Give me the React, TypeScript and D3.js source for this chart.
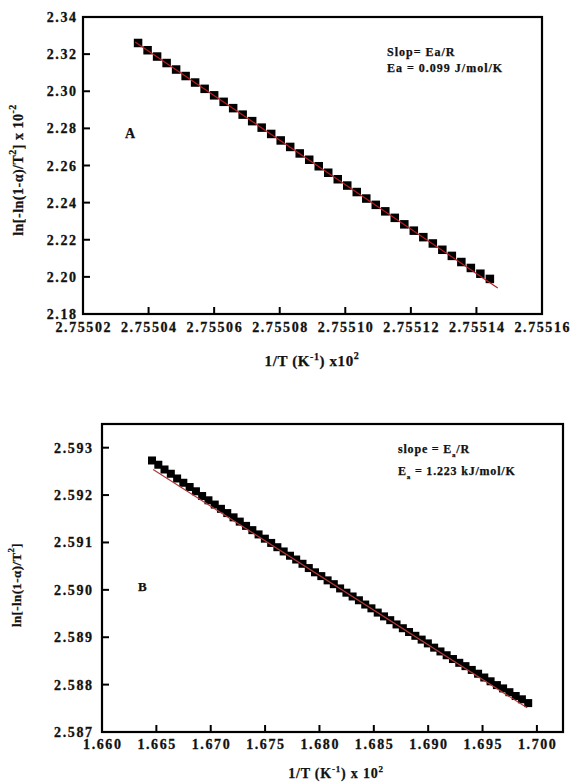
import React from "react";
import * as d3 from "d3";

// ---------- Panel A data ----------
const A_X = [
  2.7550368, 2.7550397, 2.7550426, 2.7550455, 2.7550484, 2.7550513, 2.7550542, 2.7550571,
  2.75506, 2.7550629, 2.7550658, 2.7550687, 2.7550716, 2.7550745, 2.7550774, 2.7550803,
  2.7550832, 2.7550861, 2.755089, 2.7550919, 2.7550948, 2.7550977, 2.7551006, 2.7551035,
  2.7551064, 2.7551093, 2.7551122, 2.7551151, 2.755118, 2.7551209, 2.7551238, 2.7551267,
  2.7551296, 2.7551325, 2.7551354, 2.7551383, 2.7551412, 2.7551441,
];
const A_Y = [
  2.326, 2.3221, 2.3187, 2.3152, 2.3117, 2.3082, 2.3047, 2.3013,
  2.2978, 2.2943, 2.2909, 2.2874, 2.2839, 2.2804, 2.277, 2.2735,
  2.27, 2.2665, 2.2631, 2.2596, 2.2561, 2.2526, 2.2492, 2.2457,
  2.2422, 2.2388, 2.2353, 2.2318, 2.2283, 2.2249, 2.2214, 2.218,
  2.2146, 2.2113, 2.208, 2.2048, 2.2017, 2.1989,
];
const A_FIT_X = [2.7550359, 2.7551465];
const A_FIT_Y = [2.3265, 2.194];
const A_XTICKS = [2.75502, 2.75504, 2.75506, 2.75508, 2.7551, 2.75512, 2.75514, 2.75516];
const A_YTICKS = [2.18, 2.2, 2.22, 2.24, 2.26, 2.28, 2.3, 2.32, 2.34];

// ---------- Panel B data ----------
const B_X = [
  1.6646, 1.66518, 1.66575, 1.66633, 1.66691, 1.66748, 1.66806, 1.66864, 1.66921, 1.66979,
  1.67037, 1.67094, 1.67152, 1.6721, 1.67267, 1.67325, 1.67383, 1.6744, 1.67498, 1.67556,
  1.67613, 1.67671, 1.67729, 1.67786, 1.67844, 1.67902, 1.67959, 1.68017, 1.68075, 1.68132,
  1.6819, 1.68248, 1.68305, 1.68363, 1.68421, 1.68478, 1.68536, 1.68594, 1.68651, 1.68709,
  1.68767, 1.68824, 1.68882, 1.6894, 1.68997, 1.69055, 1.69113, 1.6917, 1.69228, 1.69286,
  1.69343, 1.69401, 1.69459, 1.69516, 1.69574, 1.69632, 1.69689, 1.69747, 1.69805, 1.69862,
  1.6992,
];
const B_Y = [
  2.59273, 2.59264, 2.59254, 2.59245, 2.59235, 2.59226, 2.59217, 2.59208, 2.59198, 2.59189,
  2.5918, 2.59171, 2.59162, 2.59153, 2.59144, 2.59135, 2.59126, 2.59117, 2.59108, 2.59099,
  2.5909, 2.59081, 2.59072, 2.59064, 2.59055, 2.59046, 2.59037, 2.59029, 2.5902, 2.59012,
  2.59003, 2.58994, 2.58986, 2.58978, 2.58969, 2.58961, 2.58952, 2.58944, 2.58936, 2.58927,
  2.58919, 2.58911, 2.58903, 2.58895, 2.58887, 2.58878, 2.5887, 2.58862, 2.58854, 2.58846,
  2.58839, 2.58831, 2.58823, 2.58815, 2.58807, 2.58799, 2.58792, 2.58784, 2.58776, 2.58769,
  2.58761,
];
const B_FIT_X = [1.6647, 1.6991];
const B_FIT_Y = [2.59254, 2.58751];
const B_XTICKS = [1.66, 1.665, 1.67, 1.675, 1.68, 1.685, 1.69, 1.695, 1.7];
const B_YTICKS = [2.587, 2.588, 2.589, 2.59, 2.591, 2.592, 2.593];

const FONT = "'Liberation Serif', 'Times New Roman', serif";

type PanelProps = {
  xs: number[];
  ys: number[];
  fitX: number[];
  fitY: number[];
  xTicks: number[];
  yTicks: number[];
  xDomain: [number, number];
  yDomain: [number, number];
  left: number;
  right: number;
  top: number;
  bottom: number;
  xFmt: string;
  yFmt: string;
  xLabelY: number;
  yLabelX: number;
  marker: number;
  lineColor: string;
  children?: React.ReactNode;
};

function Panel(p: PanelProps) {
  const x = d3.scaleLinear().domain(p.xDomain).range([p.left, p.right]);
  const y = d3.scaleLinear().domain(p.yDomain).range([p.bottom, p.top]);
  const fx = d3.format(p.xFmt);
  const fy = d3.format(p.yFmt);
  const line = d3
    .line<number>()
    .x((d) => x(p.fitX[d]))
    .y((d) => y(p.fitY[d]));
  const tick = 7;
  const ls = 1.6;
  return (
    <g>
      {p.xs.map((v, i) => (
        <rect
          key={i}
          x={x(v) - p.marker / 2}
          y={y(p.ys[i]) - p.marker / 2}
          width={p.marker}
          height={p.marker}
          fill="#000"
        />
      ))}
      <path d={line([0, 1]) || ""} stroke={p.lineColor} strokeWidth={1.2} fill="none" />
      <rect
        x={p.left}
        y={p.top}
        width={p.right - p.left}
        height={p.bottom - p.top}
        fill="none"
        stroke="#000"
        strokeWidth={2.2}
      />
      {p.xTicks.map((t, i) => (
        <g key={"xt" + i}>
          <line x1={x(t)} x2={x(t)} y1={p.bottom} y2={p.bottom - tick} stroke="#000" strokeWidth={2} />
          <text
            x={x(t) + ls / 2}
            y={p.xLabelY}
            textAnchor="middle"
            fontFamily={FONT}
            fontWeight="bold"
            fontSize={14}
            letterSpacing={ls}
            fill="#111"
            stroke="#111"
            strokeWidth={0.3}
          >
            {fx(t)}
          </text>
        </g>
      ))}
      {p.yTicks.map((t, i) => (
        <g key={"yt" + i}>
          <line x1={p.left} x2={p.left + tick} y1={y(t)} y2={y(t)} stroke="#000" strokeWidth={2} />
          <text
            x={p.yLabelX + ls}
            y={y(t) + 5}
            textAnchor="end"
            fontFamily={FONT}
            fontWeight="bold"
            fontSize={14}
            letterSpacing={ls}
            fill="#111"
            stroke="#111"
            strokeWidth={0.3}
          >
            {fy(t)}
          </text>
        </g>
      ))}
      {p.children}
    </g>
  );
}

export default function App() {
  const textStyle = {
    fontFamily: FONT,
    fontWeight: "bold" as const,
    fill: "#111",
    stroke: "#111",
    strokeWidth: 0.25,
  };
  return (
    <svg
      width={571}
      height={782}
      viewBox="0 0 571 782"
      style={{ position: "absolute", left: 0, top: 0, background: "#fff" }}
    >
      <rect x={0} y={0} width={571} height={782} fill="#fff" />

      <Panel
        xs={A_X}
        ys={A_Y}
        fitX={A_FIT_X}
        fitY={A_FIT_Y}
        xTicks={A_XTICKS}
        yTicks={A_YTICKS}
        xDomain={[2.75502, 2.75516]}
        yDomain={[2.18, 2.34]}
        left={83}
        right={542}
        top={17}
        bottom={314}
        xFmt=".5f"
        yFmt=".2f"
        xLabelY={332}
        yLabelX={76}
        marker={8.5}
        lineColor="#b81c22"
      >
        <text x={125} y={138} fontSize={14} {...textStyle}>A</text>
        <text x={387} y={56} fontSize={12} letterSpacing={1} {...textStyle}>Slop= Ea/R</text>
        <text x={387} y={72} fontSize={12} letterSpacing={1} {...textStyle}>Ea = 0.099 J/mol/K</text>
        <text
          transform="translate(23,170) rotate(-90)"
          textAnchor="middle"
          fontSize={14}
          letterSpacing={0.5}
          {...textStyle}
        >
          ln[-ln(1-α)/T
          <tspan dy={-7} fontSize={10}>2</tspan>
          <tspan dy={7}>] x 10</tspan>
          <tspan dy={-7} fontSize={10}>-2</tspan>
        </text>
        <text x={312} y={366} textAnchor="middle" fontSize={15} letterSpacing={0.6} {...textStyle}>
          1/T (K
          <tspan dy={-6} fontSize={10}>-1</tspan>
          <tspan dy={6}>) x10</tspan>
          <tspan dy={-7} fontSize={10}>2</tspan>
        </text>
      </Panel>

      <Panel
        xs={B_X}
        ys={B_Y}
        fitX={B_FIT_X}
        fitY={B_FIT_Y}
        xTicks={B_XTICKS}
        yTicks={B_YTICKS}
        xDomain={[1.66, 1.7024]}
        yDomain={[2.587, 2.5935]}
        left={102}
        right={563}
        top={424}
        bottom={732}
        xFmt=".3f"
        yFmt=".3f"
        xLabelY={749}
        yLabelX={92}
        marker={8}
        lineColor="#b03a3a"
      >
        <text x={138} y={591} fontSize={13} {...textStyle}>B</text>
        <text x={398} y={453} fontSize={12} letterSpacing={0.8} {...textStyle}>
          slope = E
          <tspan dy={4} fontSize={7}>a</tspan>
          <tspan dy={-4}>/R</tspan>
        </text>
        <text x={398} y={475} fontSize={12} letterSpacing={0.8} {...textStyle}>
          E
          <tspan dy={4} fontSize={7}>a</tspan>
          <tspan dy={-4}> = 1.223 kJ/mol/K</tspan>
        </text>
        <text
          transform="translate(21,585) rotate(-90)"
          textAnchor="middle"
          fontSize={13}
          letterSpacing={0.4}
          {...textStyle}
        >
          ln[-ln(1-α)/T
          <tspan dy={-7} fontSize={9}>2</tspan>
          <tspan dy={7}>]</tspan>
        </text>
        <text x={336} y={778} textAnchor="middle" fontSize={14} letterSpacing={0.8} {...textStyle}>
          1/T (K
          <tspan dy={-6} fontSize={9}>-1</tspan>
          <tspan dy={6}>) x 10</tspan>
          <tspan dy={-6} fontSize={9}>2</tspan>
        </text>
      </Panel>
    </svg>
  );
}
